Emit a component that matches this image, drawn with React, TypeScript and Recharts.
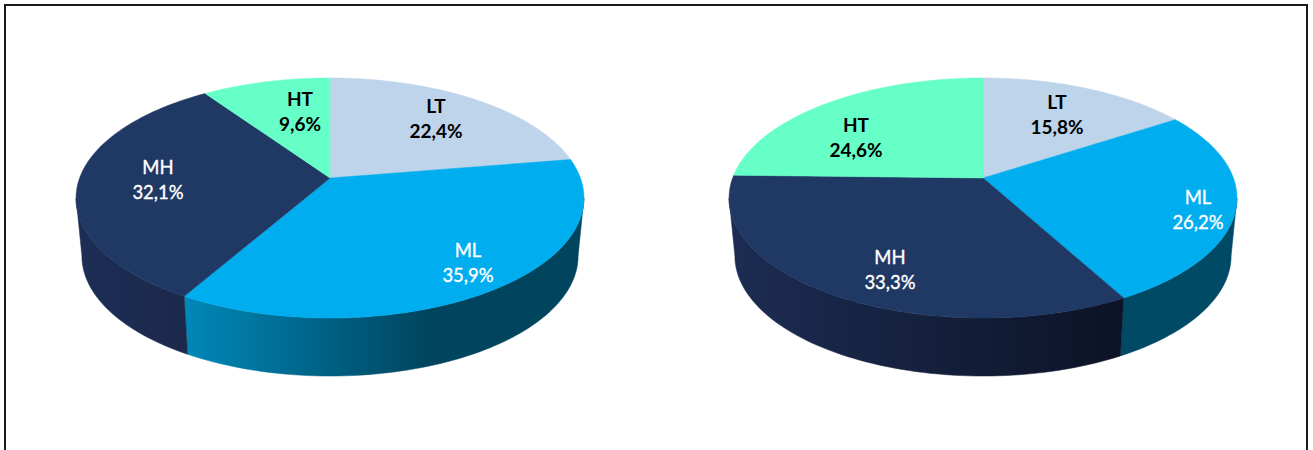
import React from 'react';
import { PieChart, Pie } from 'recharts';

const categories = ['LT', 'ML', 'MH', 'HT'];
const leftValues = [22.4, 35.9, 32.1, 9.6];
const rightValues = [15.8, 26.2, 33.3, 24.6];

const TOP_COLORS: Record<string, string> = { LT: '#BDD4EA', ML: '#00ADEF', MH: '#1F3864', HT: '#66FFC8' };
const DARK_TEXT = ['LT', 'HT'];

// the pies are tilted discs, this is the perspective that fits the picture
const PERSPECTIVE = 1 / 6;
const RADIUS_X = 250.4;
const RADIUS_Y = 116.7;
const DEPTH = 58;
const BASE_SHRINK = 0.977;

type SideFill = { from: string; to: string; fromX: number; toX: number };

const leftSides: Record<string, SideFill> = {
  ML: { from: '#0088B8', to: '#00445E', fromX: 186, toX: 430 },
  MH: { from: '#1D2D55', to: '#1B294B', fromX: 80, toX: 186 },
};
const rightSides: Record<string, SideFill> = {
  ML: { from: '#004A66', to: '#004A66', fromX: 1120, toX: 1232 },
  MH: { from: '#1C2C52', to: '#0C1326', fromX: 735, toX: 1122 },
};

// first line baseline, relative to the pie centre
const leftLabels: Record<string, [number, number]> = {
  LT: [106, -65],
  ML: [138, 79],
  MH: [-172, -4],
  HT: [-30, -72],
};
const rightLabels: Record<string, [number, number]> = {
  LT: [74, -69],
  ML: [215, 26],
  MH: [-93, 86],
  HT: [-127, -46],
};

const project = (cx: number, cy: number, deg: number) => {
  const t = (deg * Math.PI) / 180;
  const w = 1 + PERSPECTIVE * Math.cos(t);
  return [(RADIUS_X * Math.sin(t)) / w, (-RADIUS_Y * Math.cos(t)) / w].map((v, i) => v + (i === 0 ? cx : cy));
};

const rim = (cx: number, cy: number, from: number, to: number) => {
  const steps = Math.max(2, Math.ceil(Math.abs(to - from) / 1.5));
  const pts: number[][] = [];
  for (let i = 0; i <= steps; i++) pts.push(project(cx, cy, from + ((to - from) * i) / steps));
  return pts;
};

const toPath = (pts: number[][]) => 'M' + pts.map((p) => `${p[0].toFixed(2)},${p[1].toFixed(2)}`).join('L') + 'Z';

// only this part of the rim faces the viewer
const WALL_FROM = (Math.acos(-PERSPECTIVE) * 180) / Math.PI;
const WALL_TO = 360 - WALL_FROM;

const makeSector = (sides: Record<string, SideFill>, id: string) => (props: any) => {
  const { cx, cy, startAngle, endAngle, name } = props;
  const a = 90 - startAngle;
  const b = 90 - endAngle;
  const top = toPath([[cx, cy], ...rim(cx, cy, a, b)]);
  const fill = TOP_COLORS[name];
  const wallA = Math.max(a, WALL_FROM);
  const wallB = Math.min(b, WALL_TO);
  const side = sides[name];
  let wall = null;
  if (side && wallB > wallA) {
    const upper = rim(cx, cy, wallA, wallB);
    const lower = upper
      .slice()
      .reverse()
      .map((p) => [cx + (p[0] - cx) * BASE_SHRINK, p[1] + DEPTH]);
    const gid = `${id}-${name}`;
    wall = (
      <>
        <defs>
          <linearGradient id={gid} gradientUnits="userSpaceOnUse" x1={side.fromX} x2={side.toX} y1={0} y2={0}>
            <stop offset="0%" stopColor={side.from} />
            <stop offset="100%" stopColor={side.to} />
          </linearGradient>
        </defs>
        <path d={toPath([...upper, ...lower])} fill={`url(#${gid})`} stroke={`url(#${gid})`} strokeWidth={0.5} />
      </>
    );
  }
  return (
    <g>
      {wall}
      <path d={top} fill={fill} stroke={fill} strokeWidth={0.5} />
    </g>
  );
};

const makeLabel = (offsets: Record<string, [number, number]>) => (props: any) => {
  const { cx, cy, name, value } = props;
  const [dx, dy] = offsets[name];
  const dark = DARK_TEXT.includes(name);
  const x = cx + dx;
  const y = cy + dy;
  const color = dark ? '#000000' : '#FFFFFF';
  const text = value.toFixed(1).replace('.', ',') + '%';
  return (
    <text
      x={x}
      textAnchor="middle"
      fontFamily="Lato"
      fontSize={dark ? 19 : 18.5}
      fontWeight={dark ? 700 : 400}
      fill={color}
      stroke={dark ? 'none' : color}
      strokeWidth={dark ? 0 : 0.35}
    >
      <tspan x={x} y={y}>{name}</tspan>
      <tspan x={x} y={y + 25}>{text}</tspan>
    </text>
  );
};

const leftData = categories.map((name, i) => ({ name, value: leftValues[i] }));
const rightData = categories.map((name, i) => ({ name, value: rightValues[i] }));

export default function App() {
  return (
    <div style={{ position: 'absolute', left: 0, top: 0, width: 1313, height: 450, background: '#fff', overflow: 'hidden' }}>
      <div
        style={{
          position: 'absolute',
          left: 4,
          top: 4,
          width: 1300,
          height: 460,
          border: '2px solid #1a1a1a',
        }}
      />
      <div style={{ position: 'absolute', left: 0, top: 0 }}>
        <PieChart width={1313} height={450} margin={{ top: 0, right: 0, bottom: 0, left: 0 }}>
          <Pie
            data={leftData}
            dataKey="value"
            nameKey="name"
            cx={330}
            cy={178}
            outerRadius={RADIUS_X}
            startAngle={90}
            endAngle={-270}
            stroke="none"
            shape={makeSector(leftSides, 'left')}
            label={makeLabel(leftLabels)}
            labelLine={false}
            isAnimationActive={false}
          />
          <Pie
            data={rightData}
            dataKey="value"
            nameKey="name"
            cx={983}
            cy={178}
            outerRadius={RADIUS_X}
            startAngle={90}
            endAngle={-270}
            stroke="none"
            shape={makeSector(rightSides, 'right')}
            label={makeLabel(rightLabels)}
            labelLine={false}
            isAnimationActive={false}
          />
        </PieChart>
      </div>
    </div>
  );
}
